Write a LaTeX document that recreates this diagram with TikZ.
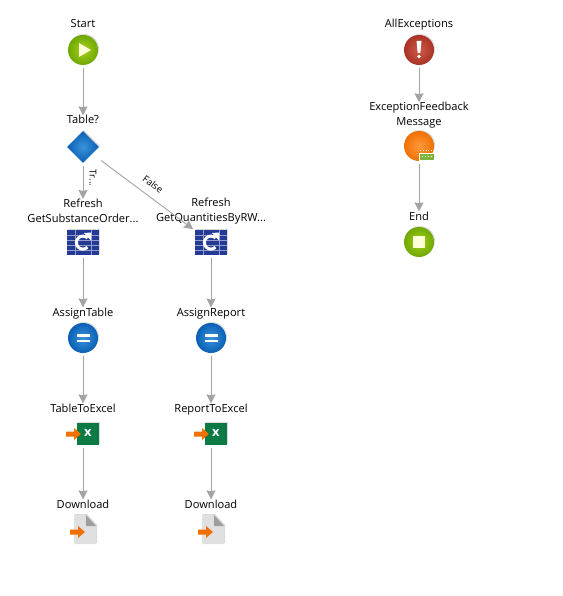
\documentclass[tikz,border=0pt]{standalone}
\usepackage{fontspec}
\setmainfont{Open Sans}
\usetikzlibrary{arrows.meta}
\usetikzlibrary{shapes.geometric}
\usetikzlibrary{shadows}
\definecolor{flowline}{HTML}{A3A3A3}
\definecolor{greenin}{HTML}{A6D020}
\definecolor{greenout}{HTML}{6FA800}
\definecolor{bluein}{HTML}{3A93DA}
\definecolor{blueout}{HTML}{0B5FB5}
\definecolor{redin}{HTML}{CF5A48}
\definecolor{redout}{HTML}{A93226}
\definecolor{orangein}{HTML}{FF9A3C}
\definecolor{orangeout}{HTML}{F07000}
\definecolor{tableblue}{HTML}{253A96}
\definecolor{excelgreen}{HTML}{0B7A45}
\definecolor{badgegreen}{HTML}{7DB53A}
\definecolor{pale}{HTML}{FFFFD8}
\tikzset{
  softshadow/.style = {drop shadow={opacity=.3, shadow xshift=1pt, shadow yshift=1pt}},
  lbl/.style = {inner sep=0, align=center, font=\fontsize{11.1}{15}\selectfont},
  onelbl/.style = {lbl, anchor=base},
  ball/.style = {circle, minimum size=30pt, inner sep=0, softshadow},
  greenball/.style = {ball, inner color=greenin, outer color=greenout},
  blueball/.style = {ball, inner color=bluein, outer color=blueout},
  redball/.style = {ball, inner color=redin, outer color=redout},
  orangeball/.style = {ball, inner color=orangein, outer color=orangeout},
  gem/.style = {diamond, minimum width=32pt, minimum height=32pt, inner sep=0, inner color=bluein, outer color=blueout, softshadow},
  iconbox/.style = {rectangle, minimum width=32pt, inner sep=0},
  flow/.style = {draw=flowline, line width=.9pt, -{Stealth[inset=1pt, length=9pt, width=9pt]}, shorten <=3pt},
  pics/playglyph/.style = {code={\fill[pale] (-4,-7)--(8,0)--(-4,7)--cycle;}},
  pics/stopglyph/.style = {code={\fill[pale] (-6,-6) rectangle (6,6);}},
  pics/bangglyph/.style = {code={
    \fill[white] (-2.5,-9)--(2.5,-9)--(1.3,3)--(-1.3,3)--cycle;
    \fill[white] (0,6.5) circle (1.8);}},
  pics/equalglyph/.style = {code={
    \fill[white] (-6.5,-4) rectangle (6.5,-1.5);
    \fill[white] (-6.5,1.5) rectangle (6.5,4);}},
  pics/pointer/.style = {code={
    \fill[orangeout] (-8,-2.5)--(0,-2.5)--(0,-6)--(7,0)--(0,6)--(0,2.5)--(-8,2.5)--cycle;}},
  pics/tableglyph/.style = {code={
    \fill[tableblue, softshadow] (-16,-12.5) rectangle (16,12.5);
    \foreach \y in {-7.5,-2.5,2.5,7.5} {
      \draw[white!50!tableblue, line width=.6pt] (-16,\y)--(16,\y);
    };
    \foreach \x in {-8,8} {
      \draw[white!50!tableblue, line width=.6pt] (\x,-12.5)--(\x,12.5);
    };
    \draw[white, line width=3pt] (4.5,-4.5) arc (-45:-315:6.5);
    \fill[white] (1,-9.5)--(8.5,-10)--(8,-2)--cycle;}},
  pics/excelglyph/.style = {code={
    \fill[excelgreen, softshadow] (-6,-11) rectangle (16,11);
    \node[text=white, inner sep=0, font=\fontsize{13}{13}\selectfont\bfseries] (mark) at (5,-1) {x};
    \pic at (-9,0) {pointer};}},
  pics/docglyph/.style = {code={
    \fill[black!12, softshadow] (-9,-15)--(3,-15)--(13,-4)--(13,14)--(-9,14)--cycle;
    \fill[black!38] (3,-15)--(13,-4)--(3,-4)--cycle;
    \pic at (-5,2) {pointer};}},
  pics/mailglyph/.style = {code={
    \draw[white, line width=.8pt, dotted] (1,4)--(15,4);
    \fill[white] (0,7) rectangle (16,15);
    \fill[badgegreen] (1,8) rectangle (15,14);
    \draw[white, line width=1pt, dotted] (3,11)--(13,11);}},
}

\begin{document}
\begin{tikzpicture}[x=1pt, y=-1pt]
\useasboundingbox (0,0) rectangle (562,596);
% main flow
\node[onelbl] (startlbl) at (83,28) {Start};
\node[greenball] (start) at (83,50) {};
\node[onelbl] (tablelbl) at (83,124) {Table?};
\node[gem] (table) at (83,147) {};
% the two branches
\foreach \n/\x/\query/\assign/\excel in {a/83/GetSubstanceOrder/AssignTable/TableToExcel,
                                          b/211/GetQuantitiesByRW/AssignReport/ReportToExcel} {
 \node[lbl] (refreshlbl\n) at (\x,211) {Refresh\\\query...};
 \node[iconbox, minimum height=25pt] (refresh\n) at (\x,242.5) {};
 \pic at (refresh\n) {tableglyph};
 \node[onelbl] (assignlbl\n) at (\x,316) {\assign};
 \node[blueball] (assign\n) at (\x,338) {};
 \pic at (assign\n) {equalglyph};
 \node[onelbl] (excellbl\n) at (\x,412) {\excel};
 \node[iconbox, minimum height=22pt] (excel\n) at (\x,434) {};
 \pic at (excel\n) {excelglyph};
 \node[onelbl] (downloadlbl\n) at (\x,508) {Download};
 \node[iconbox, minimum height=29pt] (download\n) at (\x,530) {};
 \pic at (download\n) {docglyph};
 \draw[flow] (refresh\n) -- (assignlbl\n);
 \draw[flow] (assign\n) -- (excellbl\n);
 \draw[flow] (excel\n) -- (downloadlbl\n);
};
\pic at (start) {playglyph};
\draw[flow] (start) -- (tablelbl);
\draw[flow] (table) -- (refreshlbla);
\draw[flow, shorten <=11pt, shorten >=2pt] (table) -- (refreshb);
\node[lbl, rotate=-90, font=\fontsize{9.5}{9.5}\selectfont] (truelbl) at (93,178) {Tr...};
\node[lbl, rotate=-37, font=\fontsize{9.5}{9.5}\selectfont] (falselbl) at (153,184) {False};
% exception flow
\node[onelbl] (exceptlbl) at (419,28) {AllExceptions};
\node[redball] (except) at (419,50) {};
\pic at (except) {bangglyph};
\node[lbl] (feedbacklbl) at (419,115.5) {ExceptionFeedback\\Message};
\node[orangeball] (feedback) at (419,146) {};
\pic at (feedback) {mailglyph};
\node[onelbl] (endlbl) at (419,220) {End};
\node[greenball] (end) at (419,242) {};
\pic at (end) {stopglyph};
\draw[flow] (except) -- (feedbacklbl);
\draw[flow] (feedback) -- (endlbl);
\end{tikzpicture}
\end{document}
